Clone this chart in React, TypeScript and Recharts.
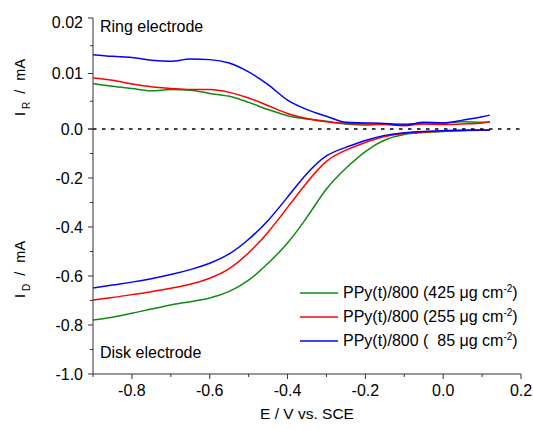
import { LineChart, Line, XAxis, YAxis, ReferenceLine } from "recharts";

const potential = [
  -0.9, -0.85, -0.8, -0.75, -0.7, -0.65, -0.6, -0.55, -0.5, -0.45, -0.4,
  -0.35, -0.3, -0.25, -0.2, -0.15, -0.1, -0.05, 0, 0.05, 0.1, 0.12,
];

// ring current, mA
const ring425 = [
  0.0082, 0.0077, 0.0073, 0.0069, 0.0071, 0.007, 0.0064, 0.0059, 0.0048, 0.0035, 0.0024,
  0.0018, 0.0014, 0.0009, 0.0007, 0.0009, 0.0009, 0.001, 0.0011, 0.0013, 0.0012, 0.0012,
];
const ring255 = [
  0.0092, 0.0088, 0.0081, 0.0076, 0.0073, 0.0071, 0.0071, 0.0066, 0.0056, 0.0042, 0.0028,
  0.0019, 0.0013, 0.001, 0.0009, 0.0008, 0.0006, 0.0009, 0.0008, 0.0009, 0.0011, 0.0013,
];
const ring85 = [
  0.0134, 0.0131, 0.0129, 0.0124, 0.0122, 0.0126, 0.0125, 0.0119, 0.0103, 0.008, 0.0052,
  0.0035, 0.0023, 0.0012, 0.0011, 0.001, 0.0007, 0.0012, 0.0011, 0.0016, 0.0022, 0.0025,
];

// disk current, mA
const disk425 = [
  -0.78, -0.768, -0.752, -0.735, -0.718, -0.705, -0.69, -0.663, -0.617, -0.548, -0.465,
  -0.36, -0.245, -0.16, -0.092, -0.045, -0.022, -0.014, -0.01, -0.007, -0.005, -0.004,
];
const disk255 = [
  -0.698, -0.688, -0.676, -0.664, -0.65, -0.634, -0.609, -0.57, -0.505, -0.421, -0.32,
  -0.218, -0.132, -0.086, -0.055, -0.031, -0.018, -0.012, -0.008, -0.006, -0.004, -0.004,
];
const disk85 = [
  -0.649, -0.637, -0.625, -0.611, -0.594, -0.574, -0.548, -0.51, -0.45, -0.373, -0.278,
  -0.182, -0.11, -0.075, -0.047, -0.026, -0.015, -0.01, -0.007, -0.005, -0.004, -0.004,
];

const xTicks = [-0.9, -0.8, -0.7, -0.6, -0.5, -0.4, -0.3, -0.2, -0.1, 0, 0.1, 0.2];
const ringTicks = [0, 0.005, 0.01, 0.015, 0.02];
const diskTicks = [-1, -0.9, -0.8, -0.7, -0.6, -0.5, -0.4, -0.3, -0.2, -0.1, 0];

const series = [
  { key: "s425", loading: "425", color: "#108a10" },
  { key: "s255", loading: "255", color: "#ff0000" },
  { key: "s85", loading: "\u00a0\u00a085", color: "#0000ff" },
];

const ringData = potential.map((e, i) => ({ e, s425: ring425[i], s255: ring255[i], s85: ring85[i] }));
const diskData = potential.map((e, i) => ({ e, s425: disk425[i], s255: disk255[i], s85: disk85[i] }));

const FONT = '"Liberation Sans", Arial, sans-serif';
const AXIS_X = 93;
const AXIS_Y = 374;
const INK = "#333";

function XTick(props: any) {
  const { x, payload } = props;
  const v = payload.value;
  const major = Math.abs(Math.round(v * 10)) % 2 === 0;
  return (
    <g>
      <line x1={x} x2={x} y1={AXIS_Y} y2={AXIS_Y + (major ? 5 : 3)} stroke={INK} />
      {major && (
        <text x={x} y={390} textAnchor="middle" dominantBaseline="central" fontSize={16} fontFamily={FONT} fill="#000">
          {v === 0 ? "0.0" : v.toFixed(1)}
        </text>
      )}
    </g>
  );
}

function RingTick(props: any) {
  const { y, payload } = props;
  const v = payload.value;
  const major = Math.round(v / 0.005) % 2 === 0;
  return (
    <g>
      <line x1={AXIS_X - (major ? 5 : 3)} x2={AXIS_X} y1={y} y2={y} stroke={INK} />
      {major && (
        <text x={83} y={v === 0.02 ? y + 4 : y} textAnchor="end" dominantBaseline="central" fontSize={16} fontFamily={FONT} fill="#000">
          {v === 0 ? "0.0" : v.toFixed(2)}
        </text>
      )}
    </g>
  );
}

function DiskTick(props: any) {
  const { y, payload } = props;
  const v = payload.value;
  const major = Math.abs(Math.round(v * 10)) % 2 === 0;
  return (
    <g>
      <line x1={AXIS_X - (major ? 5 : 3)} x2={AXIS_X} y1={y} y2={y} stroke={INK} />
      {major && v !== 0 && (
        <text x={83} y={y} textAnchor="end" dominantBaseline="central" fontSize={16} fontFamily={FONT} fill="#000">
          {v.toFixed(1)}
        </text>
      )}
    </g>
  );
}

// rotated axis title, starting at (bx, by) and running upwards
function YTitle({ bx, by, sub }: { bx: number; by: number; sub: string }) {
  return (
    <text x={bx} y={by} transform={`rotate(-90, ${bx}, ${by})`} fontSize={14.5} fontFamily={FONT} fill="#000">
      I
      <tspan dx={3} dy={5} fontSize={10}>{sub}</tspan>
      <tspan dx={8} dy={-5}>/</tspan>
      <tspan dx={9}>mA</tspan>
    </text>
  );
}

function XTitle() {
  return (
    <text x={307} y={413} textAnchor="middle" dominantBaseline="central" fontSize={15.5} fontFamily={FONT} fill="#000">
      E / V vs. SCE
    </text>
  );
}

function ChartLegend() {
  return (
    <div style={{ position: "absolute", left: 300, top: 281, fontFamily: FONT, fontSize: 16, color: "#000" }}>
      {series.map((s) => (
        <div key={s.key} style={{ display: "flex", alignItems: "center", height: 24, whiteSpace: "pre" }}>
          <svg width={43} height={4} style={{ flex: "none" }}>
            <line x1={0} x2={38} y1={2} y2={2} stroke={s.color} strokeWidth={1.5} />
          </svg>
          <span>
            PPy(t)/800 ({s.loading} μg cm<sup style={{ fontSize: 10, verticalAlign: "6px", lineHeight: 0 }}>-2</sup>)
          </span>
        </div>
      ))}
    </div>
  );
}

export default function App() {
  return (
    <div style={{ position: "absolute", left: 0, top: 0, width: 533, height: 430, background: "#fff" }}>
      <div style={{ position: "absolute", left: 0, top: 0 }}>
        <LineChart width={533} height={430} data={diskData} margin={{ top: 129, right: 12, bottom: 6, left: 33 }}>
          <XAxis
            dataKey="e"
            type="number"
            domain={[-0.9, 0.2]}
            ticks={xTicks}
            interval={0}
            height={50}
            tickLine={false}
            axisLine={{ stroke: INK }}
            tick={(p: any) => <XTick {...p} />}
            label={<XTitle />}
            allowDataOverflow
          />
          <YAxis
            type="number"
            domain={[-1, 0]}
            ticks={diskTicks}
            interval={0}
            width={60}
            tickLine={false}
            axisLine={{ stroke: INK }}
            tick={(p: any) => <DiskTick {...p} />}
            label={<YTitle bx={25} by={298} sub="D" />}
            allowDataOverflow
          />
          {series.map((s) => (
            <Line key={s.key} dataKey={s.key} type="natural" stroke={s.color} strokeWidth={1.5} dot={false} isAnimationActive={false} />
          ))}
        </LineChart>
      </div>
      <div style={{ position: "absolute", left: 0, top: 0 }}>
        <LineChart width={533} height={145} data={ringData} margin={{ top: 18, right: 12, bottom: 16, left: 33 }}>
          <XAxis dataKey="e" type="number" domain={[-0.9, 0.2]} hide allowDataOverflow />
          <YAxis
            type="number"
            domain={[0, 0.02]}
            ticks={ringTicks}
            interval={0}
            width={60}
            tickLine={false}
            axisLine={{ stroke: INK }}
            tick={(p: any) => <RingTick {...p} />}
            label={<YTitle bx={25} by={116} sub="R" />}
            allowDataOverflow
          />
          <ReferenceLine y={0} stroke="#000" strokeWidth={1.5} strokeDasharray="3.5 5.5" />
          {series.map((s) => (
            <Line key={s.key} dataKey={s.key} type="monotone" stroke={s.color} strokeWidth={1.5} dot={false} isAnimationActive={false} />
          ))}
        </LineChart>
      </div>
      <svg width={533} height={60} style={{ position: "absolute", left: 0, top: 0, pointerEvents: "none" }}>
        <text x={100} y={26} dominantBaseline="central" fontSize={16} fontFamily={FONT} fill="#000">
          Ring electrode
        </text>
      </svg>
      <svg width={533} height={430} style={{ position: "absolute", left: 0, top: 0, pointerEvents: "none" }}>
        <text x={100} y={352} dominantBaseline="central" fontSize={16} fontFamily={FONT} fill="#000">
          Disk electrode
        </text>
      </svg>
      <ChartLegend />
    </div>
  );
}
